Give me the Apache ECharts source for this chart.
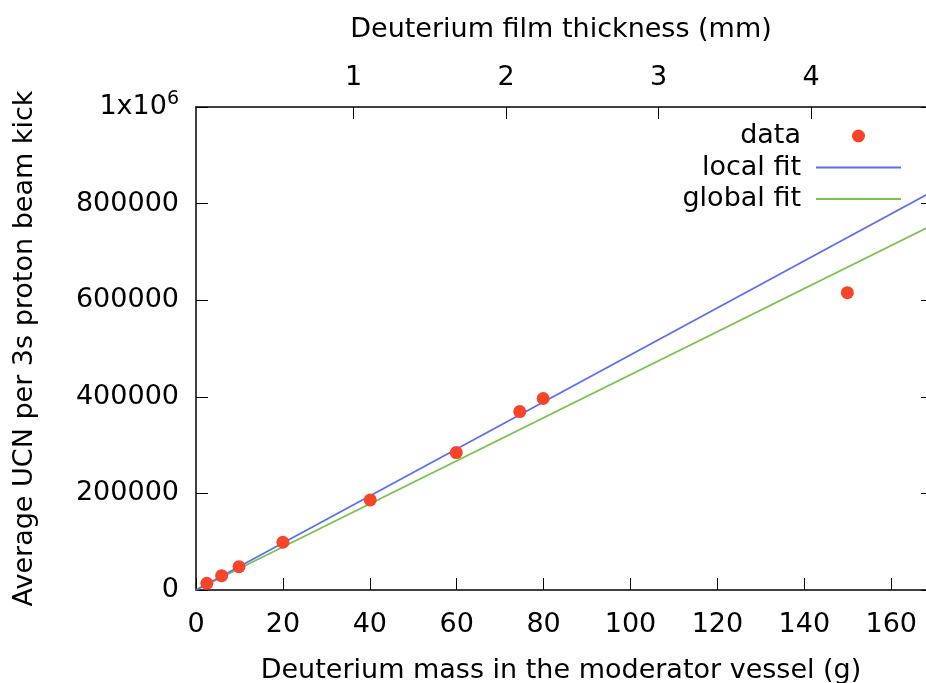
<!DOCTYPE html>
<html>
<head>
<meta charset="utf-8">
<script src="https://cdn.jsdelivr.net/npm/echarts@6/dist/echarts.min.js"></script>
<style>
  html, body { margin: 0; padding: 0; background: #fff; }
  #chart { width: 926px; height: 683px; }
</style>
</head>
<body>
<div id="chart"></div>
<script>
// ---- data ----
const massTicks = [0, 20, 40, 60, 80, 100, 120, 140, 160];
const thicknessTicks = [1, 2, 3, 4];
const ucnTicks = [0, 200000, 400000, 600000, 800000, 1000000];

const dataMass = [2.5, 5.9, 9.9, 20.0, 40.1, 59.9, 74.5, 79.9, 149.9];
const dataUCN  = [13900, 29600, 48300, 98900, 186500, 284600, 369500, 396500, 615500];

const localFitMass = [0, 168];
const localFitUCN  = [0, 817800];
const globalFitMass = [0, 168];
const globalFitUCN  = [0, 748900];

// axis ranges
const massMin = 0, massMax = 168;
const thickMin = -0.0334, thickMax = 4.753;

const FONT = 'DejaVu Sans';
const FS = 27;
const borderColor = '#404040';
const LINE_ICON = 'path://M0,0L85,0L85,1.8L0,1.8Z';

const chart = echarts.init(document.getElementById('chart'), null, { renderer: 'canvas' });

const option = {
  backgroundColor: '#ffffff',
  animation: false,
  textStyle: { fontFamily: FONT, color: '#000' },
  grid: { left: 196, right: 0, top: 107, bottom: 93, containLabel: false, outerBoundsMode: 'none' },
  legend: {
    orient: 'vertical',
    align: 'right',
    right: 20,
    top: 117.5,
    itemWidth: 85,
    itemHeight: 13,
    itemGap: 4.5,
    textStyle: { fontFamily: FONT, fontSize: FS, color: '#000', lineHeight: 22, padding: [0, 10, 0, 0] },
    data: [
      { name: 'data', icon: 'circle' },
      { name: 'local fit', icon: LINE_ICON },
      { name: 'global fit', icon: LINE_ICON }
    ]
  },
  xAxis: [
    {
      type: 'value', position: 'bottom',
      min: massMin, max: massMax,
      name: 'Deuterium mass in the moderator vessel (g)',
      nameLocation: 'middle', nameGap: 67,
      nameTextStyle: { fontFamily: FONT, fontSize: FS, color: '#000' },
      axisLine: { show: true, onZero: false, lineStyle: { color: borderColor, width: 2 } },
      axisTick: { show: true, inside: true, length: 12, customValues: massTicks, lineStyle: { color: '#000', width: 1 } },
      axisLabel: {
        fontFamily: FONT, fontSize: FS, color: '#000', margin: 21,
        customValues: massTicks
      },
      splitLine: { show: false }
    },
    {
      type: 'value', position: 'top',
      min: thickMin, max: thickMax,
      name: 'Deuterium film thickness (mm)',
      nameLocation: 'middle', nameGap: 64,
      nameTextStyle: { fontFamily: FONT, fontSize: FS, color: '#000' },
      axisLine: { show: true, onZero: false, lineStyle: { color: borderColor, width: 2 } },
      axisTick: { show: true, inside: true, length: 12, customValues: thicknessTicks, lineStyle: { color: '#000', width: 1 } },
      axisLabel: {
        fontFamily: FONT, fontSize: FS, color: '#000', margin: 16,
        customValues: thicknessTicks
      },
      splitLine: { show: false }
    }
  ],
  yAxis: [
    {
      type: 'value', position: 'left',
      min: 0, max: 1000000,
      name: 'Average UCN per 3s proton beam kick',
      nameLocation: 'middle', nameGap: 158,
      nameTextStyle: { fontFamily: FONT, fontSize: FS, color: '#000' },
      axisLine: { show: true, onZero: false, lineStyle: { color: borderColor, width: 2 } },
      axisTick: { show: true, inside: true, length: 12, customValues: ucnTicks, lineStyle: { color: '#000', width: 1 } },
      axisLabel: {
        fontFamily: FONT, fontSize: FS, color: '#000', margin: 17,
        customValues: ucnTicks,
        formatter: function (v) {
          if (v === 1000000) return '{n|1x10}{sup|6}';
          return '{n|' + v + '}';
        },
        rich: {
          n: { fontFamily: FONT, fontSize: FS, color: '#000', lineHeight: 34 },
          sup: { fontFamily: FONT, fontSize: 19, color: '#000', lineHeight: 22, verticalAlign: 'top' }
        }
      },
      splitLine: { show: false }
    },
    {
      type: 'value', position: 'right',
      min: 0, max: 1000000,
      axisLine: { show: false, onZero: false },
      axisTick: { show: true, inside: true, length: 5, customValues: ucnTicks, lineStyle: { color: '#000', width: 1 } },
      axisLabel: { show: false },
      splitLine: { show: false }
    }
  ],
  series: [
    {
      name: 'data', type: 'scatter',
      xAxisIndex: 0, yAxisIndex: 0,
      symbol: 'circle', symbolSize: 13,
      itemStyle: { color: '#f8452a', opacity: 1 },
      data: dataMass.map((m, i) => [m, dataUCN[i]]),
      z: 5
    },
    {
      name: 'local fit', type: 'line',
      xAxisIndex: 0, yAxisIndex: 0,
      symbol: 'none',
      lineStyle: { color: '#5d6ef0', width: 1.8 },
      itemStyle: { color: '#5d6ef0' },
      data: localFitMass.map((m, i) => [m, localFitUCN[i]]),
      z: 3
    },
    {
      name: 'global fit', type: 'line',
      xAxisIndex: 0, yAxisIndex: 0,
      symbol: 'none',
      lineStyle: { color: '#78c24d', width: 1.8 },
      itemStyle: { color: '#78c24d' },
      data: globalFitMass.map((m, i) => [m, globalFitUCN[i]]),
      z: 2
    }
  ]
};

chart.setOption(option);
</script>
</body>
</html>
